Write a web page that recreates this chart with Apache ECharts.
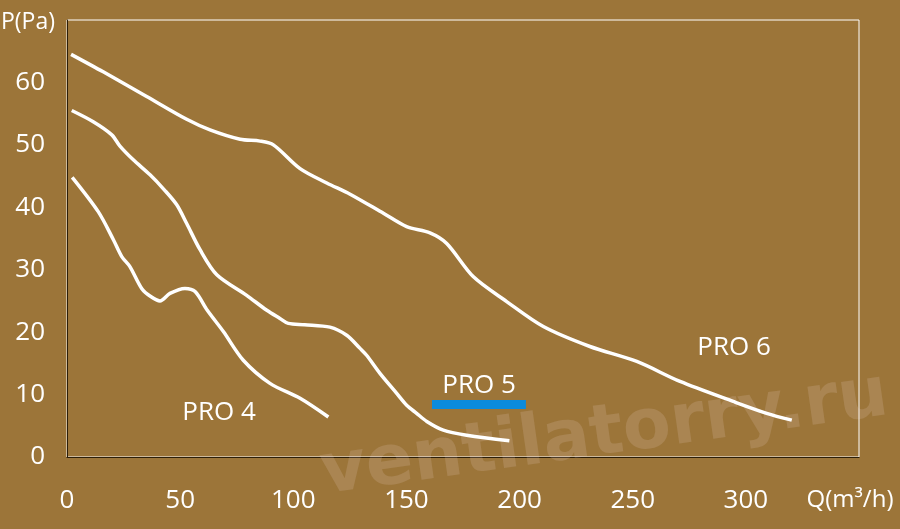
<!DOCTYPE html>
<html><head><meta charset="utf-8">
<script src="https://cdn.jsdelivr.net/npm/echarts@6/dist/echarts.min.js"></script>
<style>html,body{margin:0;padding:0;background:#9c7539;}#c{width:900px;height:529px;}</style>
</head><body><div id="c"></div>
<script>
const xTicks = [0, 50, 100, 150, 200, 250, 300];
const yTicks = [0, 10, 20, 30, 40, 50, 60];
const seriesNames = ['PRO 4', 'PRO 5', 'PRO 6'];
const pro4 = [[2.3,44.8],[13.8,39.3],[20.5,34.8],[24.2,32.1],[27.8,30.5],[33,27],[37,25.7],[41.1,25.0],[45.5,26.2],[52.1,27.0],[56.6,26.5],[62,23.5],[69.1,20.1],[77.9,15.5],[89.7,11.8],[103,9.4],[115.5,6.4]];
const pro5 = [[2.1,55.5],[11.6,53.7],[19.8,51.6],[23.4,49.8],[29.3,47.6],[36.7,45.2],[43,42.8],[48.5,40.4],[52.9,37.4],[58.8,33.2],[66.2,29.2],[79.4,25.9],[88.3,23.5],[94.1,22.2],[97.8,21.4],[105,21.2],[116.2,20.8],[123.6,19.5],[129.5,17.4],[132.4,16.3],[138.3,13.4],[145.7,10.2],[150.1,8.3],[154.5,7.0],[159,5.7],[166.3,4.3],[176.6,3.5],[195.5,2.6]];
const pro6 = [[1.8,64.5],[16,61.7],[35,57.8],[52.9,54.1],[63.2,52.4],[76.5,50.9],[85.3,50.6],[91.2,50.0],[103,46.2],[114.8,43.9],[125.1,42.1],[140,39],[150.1,36.9],[160.4,35.9],[167.8,34.2],[179.5,28.9],[194.3,24.9],[210.5,20.9],[231.1,17.7],[251.8,15.3],[270.9,12.1],[294.4,8.9],[309.2,7.0],[320.3,5.9]];
const legendBar = [[161.3,8.4],[202.8,8.4]];
const labelPos = [[67.2,7.05],[182.1,11.4],[294.8,17.6]];

const FONT = '"Open Sans", "Noto Sans", sans-serif';
const chart = echarts.init(document.getElementById('c'));
function curve(name, data, lab){
  return {
    name, type:'line', data, smooth:0.3, symbol:'none',
    lineStyle:{color:'#ffffff', width:3.5}, z:5, silent:true,
    markPoint:{
      symbol:'circle', symbolSize:1, silent:true,
      itemStyle:{color:'rgba(0,0,0,0)'},
      label:{show:true, formatter:name, color:'#fff', fontSize:26, fontFamily:FONT, position:'inside'},
      data:[{coord:lab, value:0}]
    }
  };
}
chart.setOption({
  backgroundColor:'#9c7539',
  animation:false,
  grid:{left:67, right:41, top:20, bottom:72, containLabel:false, outerBoundsMode:'none', show:true, borderColor:'#ffffff', borderWidth:1, backgroundColor:'transparent'},
  xAxis:{
    type:'value', min:0, max:350, interval:50,
    axisLine:{show:true, lineStyle:{color:'#2b1d08', width:1}},
    axisTick:{show:false}, splitLine:{show:false},
    axisLabel:{color:'#fff', fontSize:26, fontFamily:FONT, margin:31,
      formatter:v => v === 350 ? '{q|Q(m³/h)}' : String(v),
      rich:{q:{color:'#fff', fontSize:24, fontFamily:FONT, padding:[0,18,0,0]}}}
  },
  yAxis:{
    type:'value', min:0, max:70, interval:10,
    name:'P(Pa)', nameLocation:'end', nameGap:-2,
    nameTextStyle:{color:'#fff', fontSize:23, fontFamily:FONT, align:'right', verticalAlign:'middle', padding:[0,12,0,0]},
    axisLine:{show:true, lineStyle:{color:'#2b1d08', width:1}},
    axisTick:{show:false}, splitLine:{show:false},
    axisLabel:{color:'#fff', fontSize:26, fontFamily:FONT, margin:22,
      formatter:v => yTicks.indexOf(v) >= 0 ? String(v) : ''}
  },
  graphic:[{
    type:'text', x:326, y:510, rotation:8*Math.PI/180, z:1, silent:true,
    style:{text:'ventilatorry.ru', fontSize:70, fontWeight:'bold', fontFamily:'"DejaVu Sans", Verdana, sans-serif',
      fill:'rgba(240,220,220,0.16)', align:'left', verticalAlign:'bottom'}
  }],
  series:[
    curve(seriesNames[0], pro4, labelPos[0]),
    curve(seriesNames[1], pro5, labelPos[1]),
    curve(seriesNames[2], pro6, labelPos[2]),
    {type:'line', data:legendBar, symbol:'none', lineStyle:{color:'#0b8bdc', width:9, cap:'butt'}, z:6, silent:true}
  ]
});
</script></body></html>
